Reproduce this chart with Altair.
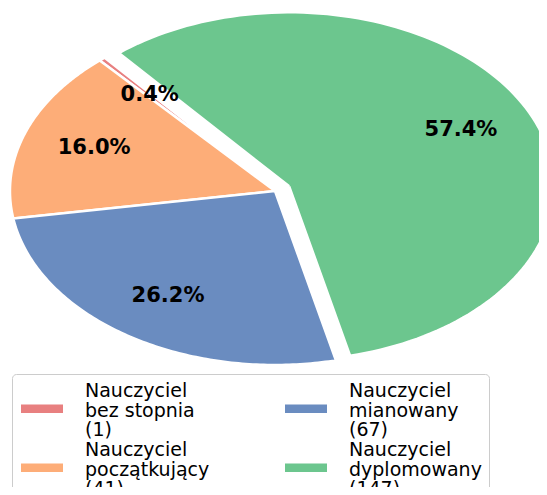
import altair as alt
import pandas as pd

# ---- data ----
categories = ["Nauczyciel bez stopnia", "Nauczyciel początkujący",
              "Nauczyciel mianowany", "Nauczyciel dyplomowany"]
counts = [1, 41, 67, 147]
colors = ["#e88080", "#fdad78", "#6a8cc0", "#6cc68e"]
explode = [0.0, 0.0, 0.0, 0.06]
legend_order = [0, 2, 1, 3]

labels = [c.replace(" ", "|", 1) + f"|({n})" for c, n in zip(categories, counts)]
df = pd.DataFrame({"idx": list(range(len(counts))), "cat": labels,
                   "count": counts, "explode": explode})

START = 130      # start angle (deg, counter-clockwise from 3 o'clock)
N = 120          # arc resolution
PCT_DIST = 0.725

W, H = 531, 479
XDOM = [-1.0075, 0.9962]
YDOM = [-1.7011, 1.0517]
xs = alt.Scale(domain=XDOM, nice=False, zero=False)
ys = alt.Scale(domain=YDOM, nice=False, zero=False)

base = (
    alt.Chart(df)
    .transform_joinaggregate(total="sum(count)")
    .transform_window(cum="sum(count)", sort=[alt.SortField("idx")], frame=[None, 0])
    .transform_calculate(a0=f"{START}*PI/180 + 2*PI*(datum.cum - datum.count)/datum.total")
    .transform_calculate(a1=f"{START}*PI/180 + 2*PI*datum.cum/datum.total")
    .transform_calculate(mid="(datum.a0 + datum.a1)/2")
    .transform_calculate(ex="datum.explode*cos(datum.mid)")
    .transform_calculate(ey="datum.explode*sin(datum.mid)")
)

pie = (
    base.transform_calculate(k=f"sequence(-1, {N + 2})")
    .transform_flatten(["k"])
    .transform_calculate(ang=f"datum.a0 + (datum.a1 - datum.a0)*clamp(datum.k, 0, {N})/{N}")
    .transform_calculate(px=f"(datum.k < 0 || datum.k > {N}) ? datum.ex : datum.ex + cos(datum.ang)")
    .transform_calculate(py=f"(datum.k < 0 || datum.k > {N}) ? datum.ey : datum.ey + sin(datum.ang)")
    .mark_line(interpolate="linear", strokeJoin="round")
    .encode(
        x=alt.X("px:Q", scale=xs, axis=None),
        y=alt.Y("py:Q", scale=ys, axis=None),
        order=alt.Order("k:Q"),
        fill=alt.Fill(
            "cat:N",
            scale=alt.Scale(domain=[labels[i] for i in legend_order],
                            range=[colors[i] for i in legend_order]),
            legend=alt.Legend(
                title=None, orient="none", legendX=4, legendY=366,
                direction="horizontal", columns=2,
                labelExpr="split(datum.label, '|')",
                labelFont="DejaVu Sans", labelFontSize=19, labelColor="black",
                labelOffset=46, labelLimit=600,
                symbolType="M-0.8,1.35L3.4,1.35L3.4,2.19L-0.8,2.19Z", symbolSize=400,
                symbolStrokeWidth=0, symbolOpacity=1,
                columnPadding=73, rowPadding=0, padding=7,
                strokeColor="#cccccc", fillColor="white", cornerRadius=4,
            ),
        ),
        stroke=alt.value("white"),
        strokeWidth=alt.value(2.5),
    )
)

text = (
    base.transform_calculate(tx=f"datum.ex + {PCT_DIST}*cos(datum.mid)")
    .transform_calculate(ty=f"datum.ey + {PCT_DIST}*sin(datum.mid)")
    .transform_calculate(pct="format(100*datum.count/datum.total, '.1f') + '%'")
    .mark_text(font="DejaVu Sans", fontWeight="bold", fontSize=21, color="black")
    .encode(
        x=alt.X("tx:Q", scale=xs, axis=None),
        y=alt.Y("ty:Q", scale=ys, axis=None),
        text="pct:N",
    )
)

chart = (
    alt.layer(pie, text)
    .properties(width=W, height=H, padding=0,
                autosize=alt.AutoSizeParams(type="none"))
    .configure(view=alt.ViewConfig(strokeWidth=0),
               style={"guide-label": {"lineHeight": 19.5}})
)

chart.save("out.html", embed_options={"renderer": "svg", "actions": False})
